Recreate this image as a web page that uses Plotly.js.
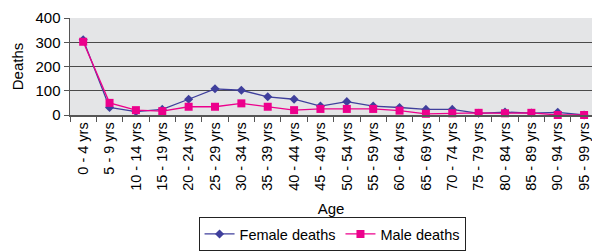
<!DOCTYPE html>
<html>
<head>
<meta charset="utf-8">
<script src="https://cdn.plot.ly/plotly-3.0.1.min.js"></script>
<style>html,body{margin:0;padding:0;background:#fff;}</style>
</head>
<body>
<div id="chart" style="width:592px;height:251px;"></div>
<script>
const ageGroups = ["0 - 4 yrs","5 - 9 yrs","10 - 14 yrs","15 - 19 yrs","20 - 24 yrs","25 - 29 yrs","30 - 34 yrs","35 - 39 yrs","40 - 44 yrs","45 - 49 yrs","50 - 54 yrs","55 - 59 yrs","60 - 64 yrs","65 - 69 yrs","70 - 74 yrs","75 - 79 yrs","80 - 84 yrs","85 - 89 yrs","90 - 94 yrs","95 - 99 yrs"];
const femaleDeaths = [310, 31, 14, 23, 65, 108, 102, 75, 65, 37, 55, 37, 31, 23, 23, 7, 12, 8, 11, 0];
const maleDeaths   = [302, 50, 20, 16, 34, 34, 48, 34, 20, 25, 25, 25, 18, 5, 7, 9, 7, 9, 0, 0];
const yTicks = [0, 100, 200, 300, 400];

const font = {family: "Liberation Sans, Arial, sans-serif", color: "#000"};

const traces = [
  {x: ageGroups, y: femaleDeaths, name: "Female deaths", type: "scatter", mode: "lines+markers",
   line: {color: "#3f3f9c", width: 1.3}, marker: {symbol: "diamond", size: 7, color: "#3f3f9c"}, cliponaxis: false},
  {x: ageGroups, y: maleDeaths, name: "Male deaths", type: "scatter", mode: "lines+markers",
   line: {color: "#ec008c", width: 1.3}, marker: {symbol: "square", size: 8, color: "#ec008c"}, cliponaxis: false}
];

const layout = {
  width: 592, height: 251,
  margin: {l: 70, r: 0, t: 18, b: 136},
  paper_bgcolor: "#ffffff",
  plot_bgcolor: "#e4e5e7",
  font: Object.assign({size: 15}, font),
  showlegend: true,
  legend: {orientation: "h", x: 0.502, xanchor: "center", yref: "container", y: 0, yanchor: "bottom",
           bordercolor: "#222", borderwidth: 1, bgcolor: "#fff", font: Object.assign({size: 14.5}, font),
           itemwidth: 30, tracegroupgap: 0},
  xaxis: {
    type: "category", range: [-0.5, 19.3], tickangle: -90, tickson: "boundaries",
    ticks: "outside", ticklen: 5, tickcolor: "#555", showline: true, linecolor: "#555", linewidth: 1.5,
    showgrid: false, tickfont: Object.assign({size: 14.5}, font),
    title: {text: "Age", font: Object.assign({size: 15}, font), standoff: 20}
  },
  yaxis: {
    range: [0, 400], tickvals: yTicks, ticks: "outside", ticklen: 5, tickcolor: "#555",
    showline: true, linecolor: "#555", linewidth: 1.5, showgrid: true, gridcolor: "#4a4a4a", gridwidth: 1,
    zeroline: false, tickfont: Object.assign({size: 15}, font),
    title: {text: "Deaths", font: Object.assign({size: 15}, font), standoff: 8}
  }
};

Plotly.newPlot("chart", traces, layout, {displayModeBar: false, staticPlot: true});
</script>
</body>
</html>
